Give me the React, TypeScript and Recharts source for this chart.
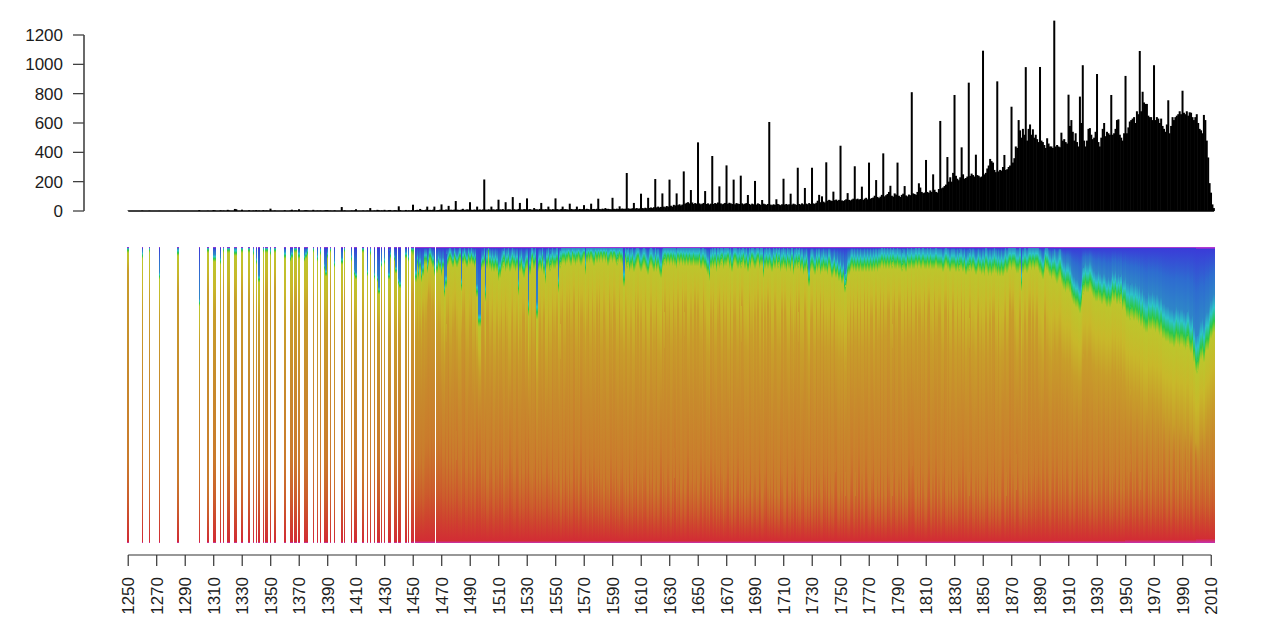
import { Bar, BarChart, ReferenceLine, XAxis, YAxis } from "recharts";

const firstYear = 1250;
const yTicks = [0, 200, 400, 600, 800, 1000, 1200];

// yearly counts, one row per decade
const counts = [
  2,0,0,0,0,0,0,0,0,0, 3,0,0,0,0,2,0,0,0,0, 0,0,1,0,0,0,0,0,0,0, 0,0,0,0,0,1,0,0,0,0, 0,0,0,0,0,0,0,0,0,0,
  6,0,0,0,0,0,2,0,0,0, 6,3,0,0,0,5,0,3,0,0, 8,3,0,0,0,14,12,0,0,0, 9,0,0,0,0,5,0,0,3,0, 6,0,3,0,0,6,0,3,2,0,
  16,0,0,3,0,0,0,0,0,0, 5,0,0,0,3,9,0,3,3,0, 12,0,0,0,4,5,3,0,0,0, 8,0,0,3,0,3,0,0,3,5, 6,0,2,0,0,4,0,0,0,0,
  27,0,4,0,0,0,0,3,0,4, 12,0,0,0,0,3,0,0,3,0, 20,0,0,3,0,8,5,0,4,0, 8,0,0,6,7,0,0,5,4,0, 32,6,0,0,0,7,0,4,0,5,
  43,0,6,8,5,14,8,5,6,9, 30,7,8,6,9,30,0,6,7,9, 45,8,7,10,9,35,8,9,7,10, 68,9,8,7,10,15,8,9,11,10, 60,9,7,10,8,30,9,10,8,11,
  215,10,8,12,9,30,11,10,9,12, 77,11,10,13,9,60,10,12,11,9, 95,12,10,9,14,55,11,10,13,12, 86,11,13,10,9,20,12,11,10,14, 55,12,10,13,11,30,12,9,13,11,
  86,13,11,10,14,30,12,13,11,10, 50,14,12,10,13,30,11,14,12,13, 40,12,15,13,11,50,13,14,12,15, 84,14,12,16,13,20,14,15,13,12, 90,15,13,16,14,32,15,17,14,16,
  259,18,16,15,19,55,17,20,16,18, 118,20,18,22,19,90,21,24,20,26, 218,25,30,24,28,120,30,26,34,30, 214,36,30,42,38,120,40,46,38,44, 270,50,56,60,52,143,58,48,54,50,
  468,52,46,50,55,136,48,52,44,50, 375,48,54,50,58,168,52,46,50,55, 311,50,56,52,48,214,46,54,50,48, 241,52,46,50,54,109,48,42,50,46, 205,44,52,48,42,75,50,46,42,48,
  607,44,40,46,42,80,48,44,40,46, 220,44,48,42,46,118,44,50,46,42, 295,48,44,52,46,157,50,46,54,48, 295,52,48,56,70,110,60,100,64,58, 332,70,76,72,68,132,74,78,70,76,
  445,72,68,74,80,122,76,72,78,84, 305,80,84,78,82,166,76,84,90,80, 330,84,88,92,104,211,96,88,98,110, 393,100,108,116,130,172,104,98,120,112, 330,104,96,110,118,170,106,100,112,108,
  810,120,116,110,130,189,160,130,122,126, 348,130,124,140,130,250,145,130,126,150, 614,155,160,170,180,368,200,230,200,260, 791,240,220,210,230,434,250,220,225,235, 875,240,255,245,235,384,245,240,230,235,
  1093,250,260,290,310,355,340,330,280,265, 884,270,280,275,300,382,280,285,300,310, 711,330,360,440,430,620,550,500,560,520, 981,480,560,590,520,557,500,520,490,470, 982,480,470,450,430,496,460,440,440,430,
  1298,440,450,440,435,534,480,490,470,460, 793,580,620,540,480,530,470,440,780,600, 994,480,440,480,560,565,520,490,500,540, 934,470,440,500,560,600,510,540,530,520, 791,520,530,560,620,625,520,500,480,530,
  921,530,570,610,620,630,640,600,680,660, 1091,680,813,740,730,730,650,640,640,620, 994,620,640,630,600,630,580,560,540,590, 755,530,580,640,620,640,650,660,680,660, 820,670,660,680,650,673,670,640,620,640,
  660,600,560,550,530,655,620,480,365,190, 125,45,20,
];

// depth (% of lower panel, from the top) where the blue/cyan gives way to green
const coolDepth = [
  1,0,0,0,0,0,0,0,0,0, 3,0,0,0,0,1,0,0,0,0, 0,0,10,0,0,0,0,0,0,0, 0,0,0,0,0,2,0,0,0,0, 0,0,0,0,0,0,0,0,0,0,
  19,0,0,0,0,0,1,0,0,0, 4,4,0,0,0,5,0,1,0,0, 1,1,0,0,0,2,2,0,0,0, 1,0,0,0,0,1,0,0,2,0, 5,0,11,0,0,1,0,1,1,0,
  2,0,0,1,0,0,0,0,0,0, 3,0,0,0,4,3,0,1,1,0, 3,0,0,0,4,3,2,0,0,0, 1,0,0,4,0,2,0,0,7,9, 3,0,1,0,0,6,0,0,0,0,
  5,0,1,0,0,0,0,4,0,9, 10,0,0,0,0,1,0,0,9,0, 2,0,0,10,0,11,15,0,6,0, 5,0,0,10,3,0,0,4,8,0, 12,13,0,0,0,3,0,4,0,1,
  1,0,10,5,9,6,10,8,4,4, 7,5,3,4,5,8,0,7,5,6, 8,6,15,12,5,4,3,4,5,3, 4,5,4,3,13,4,3,4,5,3, 4,3,4,5,4,15,25,25,6,5,
  4,16,5,1,5,6,5,6,5,6, 9,8,6,5,4,6,5,4,6,5, 4,5,6,5,14,6,5,7,8,6, 5,21,7,4,3,5,4,22,6,5, 6,4,7,10,5,4,6,5,4,5,
  5,4,13,5,4,3,3,4,3,2, 3,4,2,3,4,3,2,3,4,3, 2,7,3,2,3,2,3,4,2,3, 2,3,2,3,2,3,2,4,3,2, 3,2,3,4,3,2,3,4,11,3,
  5,4,6,5,4,6,5,4,3,5, 6,5,4,5,6,7,5,4,5,6, 4,6,5,7,8,5,4,3,4,3, 4,3,4,3,4,5,3,4,3,4, 3,4,3,4,3,4,4,3,4,4,
  4,3,5,4,4,5,6,7,9,5, 4,5,4,6,4,5,4,3,5,4, 4,3,5,4,6,4,3,4,5,4, 5,4,3,5,4,6,4,5,3,4, 5,4,3,5,4,4,8,5,4,5,
  4,5,6,4,5,3,5,4,6,5, 4,5,6,4,5,6,4,7,5,4, 5,4,6,5,7,6,5,7,11,6, 5,6,7,5,6,5,7,6,5,6, 6,7,5,6,8,7,6,8,7,9,
  8,10,9,13,11,8,7,6,5,6, 5,6,5,6,5,6,6,5,6,5, 6,5,6,5,6,5,6,5,5,4, 5,4,5,4,5,4,5,4,5,5, 4,5,5,6,5,5,6,4,5,5,
  4,5,5,4,5,4,5,5,4,5, 5,4,5,4,5,5,5,4,5,5, 5,5,6,5,4,5,5,6,5,5, 5,6,5,6,5,5,6,5,7,6, 6,5,6,5,6,7,6,5,6,7,
  6,7,5,6,7,6,7,6,5,6, 7,6,7,6,7,6,5,6,5,4, 5,4,4,5,6,6,5,12,6,5, 5,6,5,4,5,4,5,4,4,5, 6,7,8,6,4,5,6,7,8,7,
  7,8,9,8,7,9,10,11,12,11, 11,12,14,15,16,17,17,18,19,17, 13,12,11,12,12,11,12,13,14,15, 15,14,15,16,16,15,16,17,16,17, 16,14,15,14,16,15,16,15,18,17,
  18,20,20,21,20,20,21,20,21,22, 21,23,22,24,25,25,23,24,24,23, 24,25,24,25,26,25,27,27,28,28, 28,29,29,29,30,29,28,29,30,29, 29,30,31,30,29,31,32,31,35,38,
  39,38,36,34,33,35,32,31,31,29, 27,26,25,
];

// depth where the yellow has turned to gold
const goldDepth = [
  8,0,0,0,0,0,0,0,0,0, 22,0,0,0,0,18,0,0,0,0, 0,0,24,0,0,0,0,0,0,0, 0,0,0,0,0,15,0,0,0,0, 0,0,0,0,0,0,0,0,0,0,
  32,0,0,0,0,0,15,0,0,0, 25,22,0,0,0,18,0,14,0,0, 20,18,0,0,0,18,22,0,0,0, 16,0,0,0,0,18,0,0,20,0, 22,0,25,0,0,18,0,16,15,0,
  20,0,0,14,0,0,0,0,0,0, 26,0,0,0,24,22,0,20,18,0, 24,0,0,0,22,22,20,0,0,0, 18,0,0,24,0,24,0,0,26,28, 24,0,14,0,0,28,0,0,0,0,
  25,0,18,0,0,0,0,24,0,26, 28,0,0,0,0,26,0,0,26,0, 18,0,0,26,0,27,28,0,20,0, 28,0,0,30,28,0,0,28,30,0, 26,30,0,0,0,24,0,28,0,20,
  16,0,30,26,32,28,34,24,30,26, 20,16,18,22,20,26,0,30,26,28, 36,36,40,32,26,24,34,34,28,26, 24,32,38,38,30,24,22,32,36,36, 28,24,36,36,30,38,42,44,30,24,
  34,40,24,24,34,30,26,38,38,28, 38,32,26,36,36,24,32,40,40,28, 24,36,36,28,40,32,36,24,24,38, 30,44,38,26,34,34,24,46,36,26, 34,34,24,40,40,28,36,36,24,30,
  32,24,38,38,26,22,34,34,24,30, 22,30,30,20,34,34,22,36,24,24, 30,36,28,22,34,34,22,30,36,22, 30,20,34,34,24,30,36,36,20,28, 34,22,26,36,36,22,32,32,36,24,
  26,36,36,28,38,38,22,32,24,36, 26,36,36,22,32,38,38,24,36,32, 32,24,36,36,38,24,34,22,30,30, 24,34,34,22,30,34,22,32,32,20, 30,22,22,34,34,24,32,32,20,30,
  22,32,32,34,20,28,36,36,38,24, 30,22,34,34,26,20,28,36,22,30, 24,36,36,22,36,24,24,32,34,22, 32,20,28,34,34,36,22,30,30,36, 24,32,22,36,36,24,38,24,34,20,
  30,24,36,36,22,30,34,34,36,22, 34,22,30,36,36,22,30,36,30,22, 32,22,36,36,36,22,30,34,40,26, 24,34,36,22,32,32,20,34,24,34, 30,34,34,24,36,32,24,36,36,38,
  36,38,34,42,40,28,34,24,34,24, 32,32,22,34,24,34,34,20,32,22, 34,24,24,36,36,22,32,30,20,32, 22,30,30,22,22,34,34,26,20,30, 32,22,22,34,34,24,32,20,30,30,
  20,32,32,22,34,24,24,32,30,20, 34,24,20,32,32,34,20,30,30,24, 24,34,36,22,22,34,24,36,36,22, 34,36,24,34,34,22,36,24,38,34, 34,24,36,34,36,38,26,24,36,30,
  36,38,26,36,36,26,36,24,24,36, 38,26,38,36,36,26,24,36,32,20, 24,22,32,34,38,36,24,42,36,26, 26,36,24,22,34,24,36,30,24,36, 36,38,40,24,24,34,36,38,40,36,
  32,34,36,34,32,36,38,38,40,38, 40,38,42,42,44,44,44,46,46,44, 38,36,36,38,36,36,38,40,40,42, 42,40,42,44,42,42,44,44,42,44, 42,40,42,40,44,42,44,42,46,44,
  46,48,46,50,48,48,50,48,50,50, 48,52,50,54,54,54,50,52,52,50, 52,54,52,54,54,52,56,56,58,56, 58,58,56,60,60,58,56,58,60,58, 58,60,62,58,58,62,62,60,64,66,
  66,66,62,60,60,62,58,58,56,56, 54,52,52,
];

// depth where the orange starts going red
const redDepth = [
  72,0,0,0,0,0,0,0,0,0, 70,0,0,0,0,74,0,0,0,0, 0,0,72,0,0,0,0,0,0,0, 0,0,0,0,0,78,0,0,0,0, 0,0,0,0,0,0,0,0,0,0,
  74,0,0,0,0,0,80,0,0,0, 70,72,0,0,0,74,0,72,0,0, 74,70,0,0,0,72,74,0,0,0, 76,0,0,0,0,72,0,0,74,0, 70,0,72,0,0,74,0,72,74,0,
  70,0,0,80,0,0,0,0,0,0, 72,0,0,0,70,72,0,70,72,0, 74,0,0,0,72,70,72,0,0,0, 72,0,0,76,0,72,0,0,74,72, 70,0,70,0,0,76,0,0,0,0,
  72,0,74,0,0,0,0,76,0,70, 68,0,0,0,0,76,0,0,70,0, 72,0,0,70,0,68,70,0,72,0, 68,0,0,66,68,0,0,72,70,0, 68,66,0,0,0,74,0,72,0,68,
  66,0,72,74,70,72,68,74,70,66, 66,64,68,62,66,64,0,68,64,66, 62,70,70,62,72,60,72,64,72,66, 72,62,72,72,76,66,62,74,74,64, 70,76,66,76,76,62,72,64,76,72,
  74,64,78,78,70,64,74,78,66,72, 76,66,72,66,78,72,72,76,64,70, 70,76,76,66,72,78,68,76,76,64, 74,64,76,76,78,74,64,78,70,78, 68,76,76,78,68,76,74,78,66,76,
  74,78,68,76,82,70,78,66,76,82, 70,78,78,66,78,72,82,76,66,78, 76,70,78,82,70,74,82,70,78,74, 82,70,78,74,82,70,78,78,82,70, 78,74,82,70,78,82,74,70,78,82,
  74,82,70,78,82,74,78,68,82,74, 76,82,74,70,78,82,72,78,70,82, 78,72,82,78,68,82,74,78,82,72, 78,82,72,78,68,82,78,72,82,78, 72,82,78,68,82,78,72,82,78,72,
  82,78,70,82,78,72,82,76,84,70, 76,82,72,84,76,82,70,76,84,78, 76,70,82,76,84,70,82,76,70,84, 76,82,70,84,76,82,78,70,84,80, 76,84,82,70,76,84,82,76,70,80,
  84,76,82,70,84,76,82,84,70,76, 82,84,76,70,82,84,76,82,70,84, 76,82,84,76,70,82,84,76,82,70, 84,76,82,70,84,76,82,84,70,76, 82,70,84,76,82,84,76,70,82,84,
  76,82,70,84,76,82,84,76,70,82, 84,76,82,70,84,76,82,84,70,76, 82,84,76,70,82,84,76,82,70,84, 76,82,84,70,76,82,84,76,70,82, 84,76,82,70,84,76,82,84,70,76,
  74,70,78,84,76,82,70,84,76,82, 84,76,70,82,84,76,82,70,84,76, 82,84,76,70,82,84,76,82,70,84, 76,82,84,74,76,82,70,84,76,82, 84,76,70,82,84,76,82,74,84,76,
  82,84,76,70,82,84,76,82,70,84, 76,82,84,76,70,82,84,76,82,70, 82,76,84,82,70,76,82,84,76,82, 76,82,70,76,82,76,70,82,76,70, 76,82,70,76,82,70,76,82,76,70,
  82,76,70,82,76,82,70,76,82,70, 76,82,76,70,82,76,70,82,76,82, 70,76,82,70,76,82,76,70,82,76, 82,70,76,82,76,70,82,76,70,82, 76,82,76,70,82,76,70,82,76,82,
  70,76,82,76,70,82,76,82,70,76, 82,76,70,82,76,70,82,76,82,70, 76,82,76,70,82,76,82,70,76,82, 76,70,82,76,70,82,76,82,70,76, 82,76,70,82,76,82,70,76,82,70,
  72,76,82,76,72,76,82,72,76,82, 76,72,76,
];

// band widths in % of the panel, one entry per half century from 1250
const capWidths = [0.3, 0.3, 0.3, 0.3, 0.4, 0.4, 0.4, 0.4, 0.4, 0.4, 0.4, 0.4, 0.4, 0.5, 0.5, 0.7];
const cyanWidths = [1.5, 1.5, 1.5, 1.5, 2.5, 3.5, 3.5, 4, 4, 4, 4, 4, 4.5, 6, 8, 9];
const greenWidths = [1, 1, 1, 1, 2, 2.5, 2.5, 2.5, 2.5, 2.5, 2.5, 2.5, 3, 3.5, 4, 4];
const floorWidths = [0.5, 0.5, 0.5, 0.5, 0.6, 0.6, 0.6, 0.6, 0.6, 0.6, 0.6, 0.6, 0.6, 0.7, 0.9, 1.2];

const bands = [
  { key: "floor", stops: ["#d42c4c", "#c432b4"] },
  { key: "red", stops: ["#ca7a2c", "#cb6c2c", "#cc5c2c", "#ce442e", "#d22c34"] },
  { key: "orange", stops: ["#c89e2a", "#c88a2c", "#ca7a2c"] },
  { key: "yellow", stops: ["#bcc62c", "#c8b82a", "#c89e2a"] },
  { key: "green", stops: ["#2cc84a", "#7ccb2e", "#bcc62c"] },
  { key: "cyan", stops: ["#2e86c8", "#2cc4c8", "#2cc84a"] },
  { key: "blue", stops: ["#3a3cd8", "#2e6cd0", "#2e86c8"] },
  { key: "cap", stops: ["#d23cd0", "#5a30d8"] },
];

const countRows = counts.map((count, i) => ({ year: firstYear + i, count: count || null }));

const shareRows = counts.map((count, i) => {
  const year = firstYear + i;
  if (!count) return { year };
  const era = Math.floor(i / 50);
  const cap = capWidths[era];
  const cool = Math.max(coolDepth[i], cap);
  const cyan = Math.min(cyanWidths[era], cool - cap);
  const greenEnd = cool + greenWidths[era];
  const goldEnd = Math.max(goldDepth[i], greenEnd);
  const redStart = Math.max(redDepth[i], goldEnd);
  const floorStart = 100 - floorWidths[era];
  return {
    year,
    floor: 100 - floorStart,
    red: floorStart - redStart,
    orange: redStart - goldEnd,
    yellow: goldEnd - greenEnd,
    green: greenEnd - cool,
    cyan,
    blue: cool - cyan - cap,
    cap,
  };
});

const axisColor = "#333";
const labelStyle = { fontFamily: '"Liberation Sans", Arial, sans-serif', fontSize: 17, fill: "#1c1c1c" };

function CountTick({ x, y, payload }: any) {
  // R style axis: the spine stops at the last tick, below the tallest spikes
  return (
    <g>
      <text x={x} y={y + 6} textAnchor="end" {...labelStyle}>
        {payload.value}
      </text>
      {payload.value === 1200 && <line x1={84} x2={84} y1={y} y2={y + 176} stroke="#444" strokeWidth={1.6} />}
    </g>
  );
}

function YearTick({ x, y, payload }: any) {
  return (
    <text transform={`translate(${x + 6},${y}) rotate(-90)`} textAnchor="end" {...labelStyle}>
      {payload.value}
    </text>
  );
}

// recharts floors a bar's width to 1px here, the columns have to meet each other
function Spike({ x, y, width, height }: any) {
  if (!height) return null;
  return <rect x={x + width / 2 - 1} y={y} width={2} height={height} fill="#000" />;
}

function ShareColumn({ x, y, width, height, fill }: any) {
  if (!height) return null;
  return <rect x={x + width / 2 - 0.75} y={y} width={1.5} height={height} fill={fill} shapeRendering="crispEdges" />;
}

export default function App() {
  return (
    <div style={{ position: "absolute", left: 0, top: 0, width: 1280, height: 640 }}>
      <div style={{ position: "absolute", left: 0, top: 0 }}>
        <BarChart width={1280} height={220} data={countRows} barCategoryGap={0} margin={{ top: 20.33, right: 65.2, bottom: 9, left: 0 }}>
          <XAxis dataKey="year" hide padding={{ left: 43.5, right: 0 }} />
          <YAxis
            width={84}
            domain={[0, 1300]}
            ticks={yTicks}
            interval={0}
            axisLine={false}
            tickSize={11}
            tickMargin={10}
            tickLine={{ stroke: axisColor, strokeWidth: 1.2 }}
            tick={CountTick}
          />
          <ReferenceLine segment={[{ x: 1250, y: 0 }, { x: 2012, y: 0 }]} stroke="#000" strokeWidth={1.6} ifOverflow="visible" />
          <Bar dataKey="count" shape={Spike} isAnimationActive={false} />
        </BarChart>
      </div>
      <div style={{ position: "absolute", left: 0, top: 0 }}>
        <BarChart width={1280} height={640} data={shareRows} barCategoryGap={0} margin={{ top: 247, right: 65.2, bottom: 0, left: 127.5 }}>
          <defs>
            {bands.map((band) => (
              <linearGradient key={band.key} id={`fill-${band.key}`} x1="0" y1="0" x2="0" y2="1">
                {band.stops.map((stop, i) => (
                  <stop key={stop} offset={i / (band.stops.length - 1)} stopColor={stop} />
                ))}
              </linearGradient>
            ))}
          </defs>
          <XAxis
            dataKey="year"
            height={85}
            interval={19}
            axisLine={false}
            tickSize={11}
            tickMargin={11}
            tickLine={{ stroke: axisColor, strokeWidth: 1.2 }}
            tick={YearTick}
          />
          <YAxis hide domain={[-4.05, 100]} />
          <ReferenceLine segment={[{ x: 1250, y: -4.05 }, { x: 2010, y: -4.05 }]} stroke={axisColor} strokeWidth={1.2} ifOverflow="visible" />
          {bands.map((band) => (
            <Bar key={band.key} dataKey={band.key} stackId="share" fill={`url(#fill-${band.key})`} shape={ShareColumn} isAnimationActive={false} />
          ))}
        </BarChart>
      </div>
    </div>
  );
}
